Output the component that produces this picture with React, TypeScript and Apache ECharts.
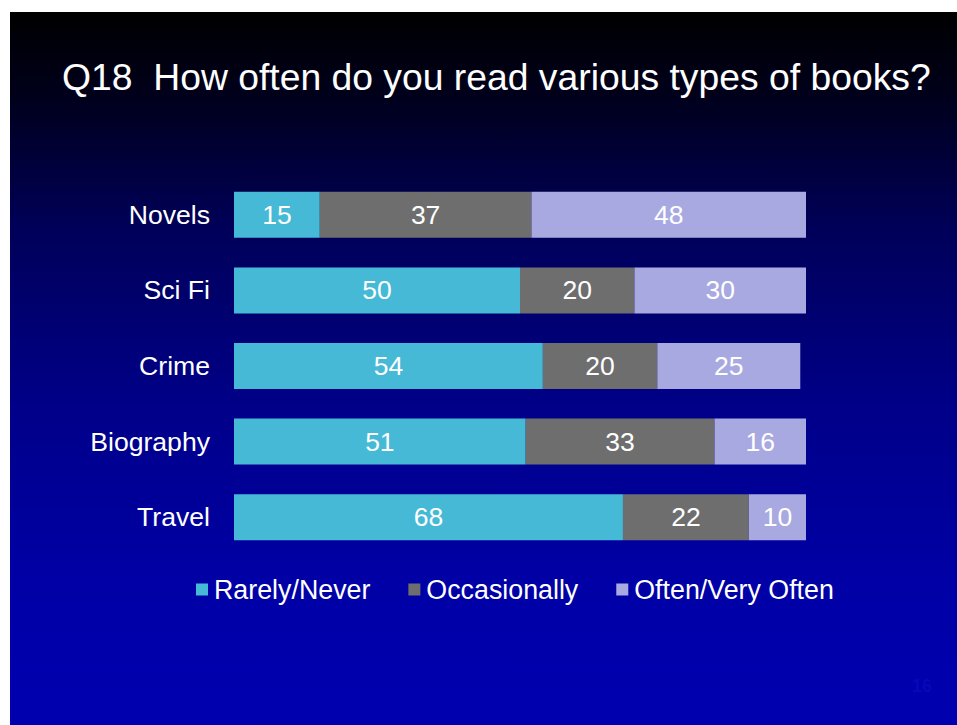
import React, { useEffect, useRef } from "react";
import * as echarts from "echarts";

const categories = ["Novels", "Sci Fi", "Crime", "Biography", "Travel"];
const rarelyNever = [15, 50, 54, 51, 68];
const occasionally = [37, 20, 20, 33, 22];
const oftenVeryOften = [48, 30, 25, 16, 10];
const seriesNames = ["Rarely/Never", "Occasionally", "Often/Very Often"];
const titleText = "Q18  How often do you read various types of books?";

const colors = ["#46B9D6", "#6E6E6E", "#A9A9E1"];
const FONT = "Arial, 'Liberation Sans', sans-serif";

export default function App() {
  const ref = useRef<HTMLDivElement>(null);
  useEffect(() => {
    if (!ref.current) return;
    const chart = echarts.init(ref.current, undefined, { renderer: "svg" });
    const values = [rarelyNever, occasionally, oftenVeryOften];
    chart.setOption({
      animation: false,
      backgroundColor: "#ffffff",
      textStyle: { fontFamily: FONT },
      graphic: [
        {
          type: "rect",
          z: -10,
          silent: true,
          shape: { x: 10, y: 12, width: 947, height: 713 },
          style: {
            fill: new echarts.graphic.LinearGradient(0, 0, 0, 1, [
              { offset: 0, color: "#000000" },
              { offset: 0.12, color: "#00001c" },
              { offset: 0.3, color: "#000058" },
              { offset: 0.55, color: "#000088" },
              { offset: 0.8, color: "#0000a6" },
              { offset: 1, color: "#0000b0" },
            ]),
          },
        },
        {
          type: "text",
          x: 62,
          y: 77,
          style: {
            text: titleText,
            fill: "#ffffff",
            font: `37.3px ${FONT}`,
            textVerticalAlign: "middle",
          },
        },
        {
          type: "text",
          x: 912,
          y: 686,
          style: {
            text: "16",
            fill: "#0808b8",
            font: `bold 18px ${FONT}`,
            textVerticalAlign: "middle",
          },
        },
      ],
      legend: {
        bottom: 122,
        left: 196,
        padding: 0,
        itemWidth: 12,
        itemHeight: 12,
        itemGap: 38,
        icon: "rect",
        textStyle: { color: "#ffffff", fontSize: 26.8, fontFamily: FONT, padding: [0, 0, 0, 1] },
        data: seriesNames,
      },
      grid: { left: 234, right: 151, top: 177, height: 378 },
      xAxis: {
        type: "value",
        min: 0,
        max: 100,
        show: false,
      },
      yAxis: {
        type: "category",
        data: categories,
        inverse: true,
        axisLine: { show: false },
        axisTick: { show: false },
        axisLabel: { color: "#ffffff", fontSize: 26.6, fontFamily: FONT, margin: 24 },
      },
      series: seriesNames.map((name, i) => ({
        name,
        type: "bar",
        stack: "total",
        barWidth: 46,
        data: values[i],
        itemStyle: { color: colors[i] },
        label: {
          show: true,
          position: "inside",
          color: "#ffffff",
          fontSize: 26.5,
          fontFamily: FONT,
        },
      })),
    });
    return () => chart.dispose();
  }, []);
  return (
    <div
      ref={ref}
      style={{ position: "absolute", left: 0, top: 0, width: 957, height: 725 }}
    />
  );
}
